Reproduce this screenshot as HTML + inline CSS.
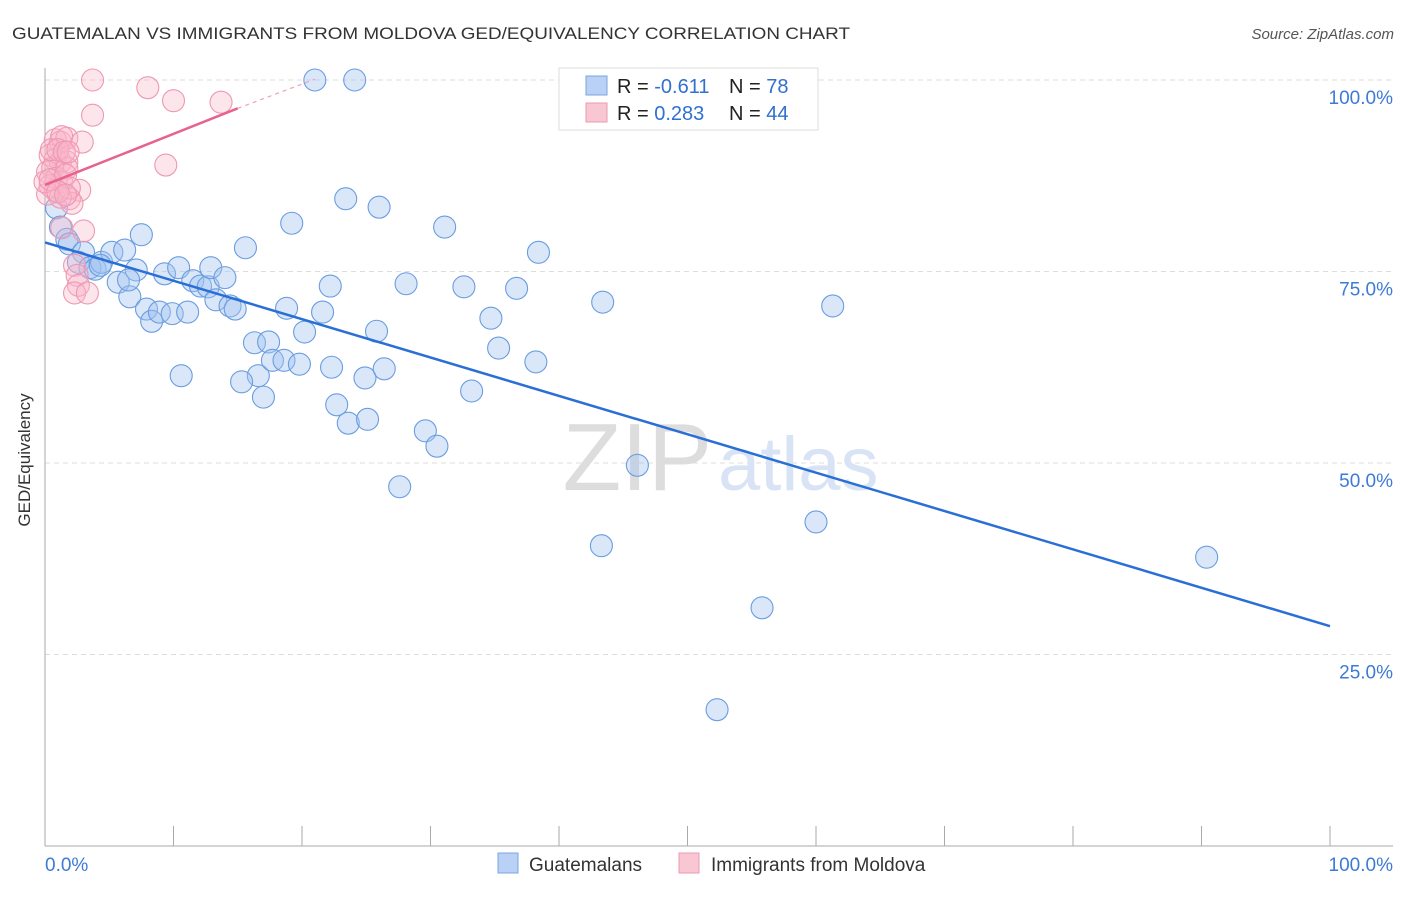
<!DOCTYPE html>
<html><head><meta charset="utf-8"><style>
body{margin:0;background:#fff;font-family:"Liberation Sans",sans-serif}
svg text{font-family:"Liberation Sans",sans-serif}
</style></head><body>
<svg id="c" width="1406" height="892">
<text x="12" y="39" font-size="17" fill="#333" textLength="838" lengthAdjust="spacingAndGlyphs">GUATEMALAN VS IMMIGRANTS FROM MOLDOVA GED/EQUIVALENCY CORRELATION CHART</text>
<text x="1394" y="39" font-size="15" fill="#555" font-style="italic" text-anchor="end">Source: ZipAtlas.com</text>
<g id="grid"></g>
<text x="712" y="490" font-size="96" fill="#ddd" text-anchor="end" font-family="Liberation Serif">ZIP</text>
<text x="718" y="490" font-size="76" fill="#d8e4f5">atlas</text>
<g id="pts"></g>
<text x="30" y="460" font-size="17" fill="#333" text-anchor="middle" transform="rotate(-90 30 460)">GED/Equivalency</text>
<g>
<rect x="559" y="68" width="259" height="62" fill="#fff" stroke="#ddd"/>
<rect x="586" y="76" width="21" height="19" fill="#b8d1f5" stroke="#7aa4e0"/>
<rect x="586" y="103" width="21" height="19" fill="#f9c6d4" stroke="#ee9ab2"/>
<text x="617" y="93" font-size="20" fill="#222">R = <tspan fill="#3070d0">-0.611</tspan><tspan x="729">N = </tspan><tspan fill="#3070d0">78</tspan></text>
<text x="617" y="120" font-size="20" fill="#222">R = <tspan fill="#3070d0"> 0.283</tspan><tspan x="729">N = </tspan><tspan fill="#3070d0">44</tspan></text>
</g>
<g>
<rect x="498" y="853" width="20" height="20" fill="#b8d1f5" stroke="#7aa4e0"/>
<text x="529" y="871" font-size="19" fill="#333">Guatemalans</text>
<rect x="679" y="853" width="20" height="20" fill="#f9c6d4" stroke="#ee9ab2"/>
<text x="711" y="871" font-size="19" fill="#333">Immigrants from Moldova</text>
</g>
<text x="45" y="871" font-size="19" fill="#3d7ad6">0.0%</text>
<text x="1393" y="871" font-size="19" fill="#3d7ad6" text-anchor="end">100.0%</text>
</svg>
<script>
const blueX=[21.0,24.1,0.9,1.2,1.7,1.9,3.0,2.6,3.5,3.9,4.4,5.2,6.2,7.5,7.1,5.7,6.6,7.9,8.3,8.9,9.9,11.1,9.3,10.4,11.5,12.1,12.7,12.9,13.3,14.0,14.4,14.8,15.6,19.2,23.4,26.0,31.1,38.4,16.3,17.4,16.6,17.0,17.7,18.6,18.8,19.8,20.2,21.6,22.2,22.3,22.7,23.6,24.9,25.1,25.8,26.4,28.1,27.6,29.6,30.5,32.6,33.2,34.7,35.3,36.7,38.2,43.4,61.3,46.1,43.3,60.0,55.8,52.3,90.4,10.6,15.3,4.3,6.5];
const blueY=[100,100,83.3,80.8,79.2,78.6,77.5,76.2,75.5,75.3,76.2,77.5,77.8,79.8,75.2,73.6,71.7,70.1,68.5,69.7,69.5,69.7,74.7,75.5,73.8,73.1,73.0,75.5,71.3,74.2,70.5,70.1,78.1,81.3,84.5,83.4,80.8,77.5,65.7,65.8,61.4,58.6,63.4,63.4,70.2,62.9,67.1,69.7,73.1,62.5,57.6,55.2,61.1,55.7,67.2,62.3,73.4,46.9,54.2,52.2,73.0,59.4,68.9,65.0,72.8,63.2,71.0,70.5,49.7,39.2,42.3,31.1,17.8,37.7,61.4,60.6,75.8,73.9];
const pinkX=[3.7,8.0,10.0,13.7,3.7,9.4,0.8,1.2,1.7,1.3,2.9,0.4,0.8,1.2,1.7,0.2,0.6,0.9,1.3,0.4,0.8,1.7,2.7,1.9,2.1,1.2,0.2,1.3,3.0,2.3,2.5,2.6,2.3,3.3,0.5,1.0,1.5,1.8,0.0,0.4,1.6,1.9,1.0,1.6];
const pinkY=[100,99.0,97.3,97.1,95.4,88.9,92.2,91.9,92.4,92.6,91.9,90.2,89.6,89.3,89.3,88.0,88.5,87.2,86.7,86.2,85.6,88.5,85.6,84.5,83.9,84.7,85.1,80.7,80.3,75.8,74.5,73.2,72.2,72.2,90.9,90.9,90.6,90.6,86.7,87.0,87.6,85.9,85.4,85.0];
const yTicks=[100,75,50,25];
const yTickLabels=["100.0%","75.0%","50.0%","25.0%"];
const xTicks=[0,10,20,30,40,50,60,70,80,90,100];
const blueTrend=[78.8,28.7];
const pinkTrend=[86.3,96.3,100.1];
const pinkTrendX=[0,15,21];
const NS="http://www.w3.org/2000/svg";
const sx=v=>45+v*12.85, sy=v=>846-v*7.66;
function mk(t,a,p){const e=document.createElementNS(NS,t);for(const k in a)e.setAttribute(k,a[k]);p.appendChild(e);return e;}
const g=document.getElementById('grid'),P=document.getElementById('pts');
yTicks.forEach((v,i)=>{const l=mk('line',{x1:45,x2:1393,y1:sy(v),y2:sy(v),stroke:'#ddd','stroke-dasharray':'5,4'},g);


const t=mk('text',{x:1393,y:sy(v)+24,'font-size':19,fill:'#3d7ad6','text-anchor':'end'},g);t.textContent=yTickLabels[i];

});
const ax=mk('line',{x1:45,x2:45,y1:68,y2:846,stroke:'#aaa'},g);


const bx=mk('line',{x1:45,x2:1393,y1:846,y2:846,stroke:'#aaa'},g);


xTicks.forEach(v=>{const l=mk('line',{x1:sx(v),x2:sx(v),y1:826,y2:846,stroke:'#aaa'},g);

});
blueX.forEach((x,i)=>{const c=mk('circle',{cx:sx(x),cy:sy(blueY[i]),r:11,fill:'rgba(160,195,240,0.4)',stroke:'#6a9de0','stroke-width':1.1},P);

});
pinkX.forEach((x,i)=>{const c=mk('circle',{cx:sx(x),cy:sy(pinkY[i]),r:11,fill:'rgba(248,180,200,0.35)',stroke:'#ee98b2','stroke-width':1.1},P);

});
const bt=mk('line',{x1:sx(0),y1:sy(blueTrend[0]),x2:sx(100),y2:sy(blueTrend[1]),stroke:'#2a6fd6','stroke-width':2.5},P);


const pt=mk('line',{x1:sx(pinkTrendX[0]),y1:sy(pinkTrend[0]),x2:sx(pinkTrendX[1]),y2:sy(pinkTrend[1]),stroke:'#e8628f','stroke-width':2.5},P);


const pd=mk('line',{x1:sx(pinkTrendX[1]),y1:sy(pinkTrend[1]),x2:sx(pinkTrendX[2]),y2:sy(pinkTrend[2]),stroke:'#f0a0b8','stroke-width':1.2,'stroke-dasharray':'4,4'},P);


</script>
</body></html>
